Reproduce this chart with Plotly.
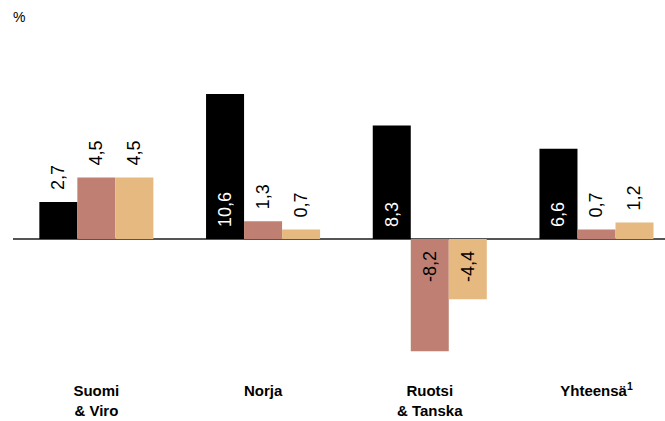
import plotly.graph_objects as go

categories = ["Suomi<br>& Viro", "Norja", "Ruotsi<br>& Tanska", "Yhteensä<sup>1</sup>"]
series_names = ["Sarja 1", "Sarja 2", "Sarja 3"]
values_1 = [2.7, 10.6, 8.3, 6.6]
values_2 = [4.5, 1.3, -8.2, 0.7]
values_3 = [4.5, 0.7, -4.4, 1.2]

colors = ["#000000", "#BF8073", "#E6B980"]
inside_text_colors = ["#FFFFFF", "#000000", "#000000"]

PAD = "\u2002"


def label(v):
    s = f"{v:.1f}".replace(".", ",")
    return PAD + s if v >= 0 else s + PAD


fig = go.Figure()
for name, vals, col, tcol in zip(series_names, [values_1, values_2, values_3], colors, inside_text_colors):
    pos = ["inside" if abs(v) > 5 or v < 0 else "outside" for v in vals]
    fig.add_trace(go.Bar(
        x=categories, y=vals, name=name,
        marker=dict(color=col, line=dict(width=0)),
        text=[label(v) for v in vals],
        textposition=pos,
        insidetextanchor="start",
        textangle=-90,
        insidetextfont=dict(color=tcol, size=18, family="Liberation Sans, Arial, sans-serif"),
        outsidetextfont=dict(color="#000000", size=18, family="Liberation Sans, Arial, sans-serif"),
        cliponaxis=False,
        hoverinfo="skip",
    ))

fig.update_layout(
    width=665, height=421,
    margin=dict(l=13, r=0, t=60, b=61),
    barmode="group", bargap=0.316, bargroupgap=0,
    plot_bgcolor="white", paper_bgcolor="white",
    showlegend=False,
    uniformtext=dict(mode=False),
    xaxis=dict(
        type="category", range=[-0.5, 3.411],
        showgrid=False, showline=False, ticks="", zeroline=False,
        tickfont=dict(family="Liberation Sans, Arial, sans-serif", size=15, color="#000000", weight="bold"),
        ticklabelstandoff=20,
    ),
    yaxis=dict(
        range=[-8.845, 13.08],
        showgrid=False, showticklabels=False, ticks="", showline=False,
        zeroline=True, zerolinecolor="#555555", zerolinewidth=1.5,
    ),
    annotations=[dict(
        text="%", x=0, y=1, xref="paper", yref="paper", xshift=-2, yshift=33,
        xanchor="left", yanchor="bottom", showarrow=False,
        font=dict(family="Liberation Sans, Arial, sans-serif", size=14, color="#000000"),
    )],
)

fig.write_html("out.html")
